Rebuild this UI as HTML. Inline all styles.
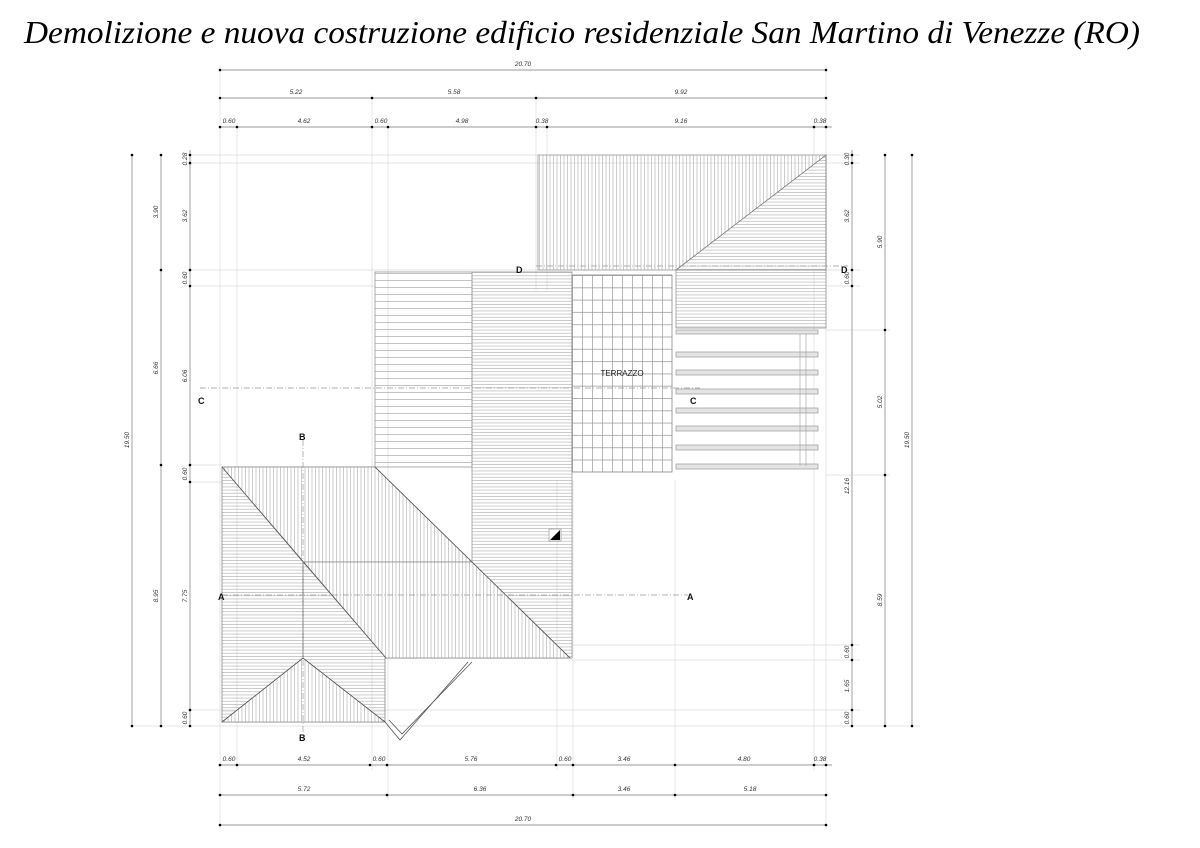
<!DOCTYPE html>
<html><head><meta charset="utf-8"><style>
html,body{margin:0;padding:0;background:#fff;width:1200px;height:848px;overflow:hidden}
svg{position:absolute;left:0;top:0}
.t{font-family:"Liberation Serif",serif;font-style:italic;font-size:32px;fill:#000}
.d{font-family:"Liberation Sans",sans-serif;font-style:italic;font-size:6.5px;fill:#333}
.l{font-family:"Liberation Sans",sans-serif;font-weight:bold;font-size:9px;fill:#111}
</style></head><body>
<svg width="1200" height="848" viewBox="0 0 1200 848" xmlns="http://www.w3.org/2000/svg">
<defs>
<pattern id="hz" width="6" height="3.2" patternUnits="userSpaceOnUse"><line x1="0" y1="0.5" x2="6" y2="0.5" stroke="#aaa" stroke-width="0.6"/></pattern>
<pattern id="hzs" width="6" height="7" patternUnits="userSpaceOnUse"><line x1="0" y1="0.5" x2="6" y2="0.5" stroke="#aaa" stroke-width="0.7"/></pattern>
<pattern id="vt" width="3.5" height="6" patternUnits="userSpaceOnUse"><line x1="0.5" y1="0" x2="0.5" y2="6" stroke="#aaa" stroke-width="0.6"/></pattern>
<pattern id="grid" x="572" y="275" width="10" height="12.3" patternUnits="userSpaceOnUse"><path d="M0.5 0V12.3M0 0.5H10" stroke="#999" stroke-width="0.7" fill="none"/></pattern>
</defs>
<text class="t" x="24" y="43" textLength="1116" lengthAdjust="spacingAndGlyphs">Demolizione e nuova costruzione edificio residenziale San Martino di Venezze (RO)</text>

<g stroke="#ddd" stroke-width="0.7">
<line x1="220" y1="65" x2="220" y2="830"/><line x1="237" y1="123" x2="237" y2="770"/>
<line x1="372" y1="95" x2="372" y2="770"/><line x1="388" y1="123" x2="388" y2="800"/>
<line x1="536" y1="95" x2="536" y2="290"/><line x1="547" y1="123" x2="547" y2="290"/>
<line x1="826" y1="65" x2="826" y2="830"/><line x1="814" y1="123" x2="814" y2="770"/>
<line x1="557" y1="480" x2="557" y2="770"/><line x1="573" y1="480" x2="573" y2="800"/>
<line x1="675" y1="480" x2="675" y2="800"/>
<line x1="190" y1="155" x2="860" y2="155"/><line x1="190" y1="163" x2="860" y2="163"/>
<line x1="190" y1="270" x2="860" y2="270"/><line x1="190" y1="286" x2="375" y2="286"/><line x1="826" y1="286" x2="860" y2="286"/>
<line x1="190" y1="465" x2="222" y2="465"/><line x1="190" y1="482" x2="222" y2="482"/>
<line x1="826" y1="330" x2="890" y2="330"/><line x1="826" y1="475" x2="890" y2="475"/>
<line x1="572" y1="645" x2="860" y2="645"/><line x1="572" y1="660" x2="860" y2="660"/>
<line x1="190" y1="710" x2="860" y2="710"/><line x1="130" y1="726" x2="920" y2="726"/>
</g>

<rect x="538" y="155" width="288" height="115" fill="url(#vt)" stroke="#999" stroke-width="0.8"/>
<polygon points="676,270 826,155 826,270" fill="#fff"/>
<polygon points="676,270 826,155 826,270" fill="url(#hz)" stroke="#777" stroke-width="0.8"/>
<rect x="676" y="270" width="150" height="58" fill="url(#hz)" stroke="#999" stroke-width="0.8"/>

<rect x="375" y="272" width="97" height="195" fill="url(#hzs)" stroke="#999" stroke-width="0.8"/>
<rect x="472" y="272" width="100" height="386" fill="url(#hz)" stroke="#999" stroke-width="0.8"/>
<rect x="572" y="275" width="100" height="197" fill="url(#grid)" stroke="#888" stroke-width="0.8"/>
<text x="622" y="376" text-anchor="middle" font-family="Liberation Sans,sans-serif" font-size="8" fill="#222">TERRAZZO</text>

<g fill="#e4e4e4" stroke="#999" stroke-width="0.7">
<rect x="676" y="330" width="142" height="4"/><rect x="676" y="352" width="142" height="5"/>
<rect x="676" y="370" width="142" height="5"/><rect x="676" y="389" width="142" height="5"/>
<rect x="676" y="408" width="142" height="5"/><rect x="676" y="426" width="142" height="5"/>
<rect x="676" y="445" width="142" height="5"/><rect x="676" y="464" width="142" height="5"/>
</g>
<g stroke="#aaa" stroke-width="0.7"><line x1="800" y1="334" x2="800" y2="466"/><line x1="806" y1="334" x2="806" y2="466"/></g>

<polygon points="222,467 375,467 570,658 385,658 385,722 222,722" fill="url(#hz)" stroke="#888" stroke-width="0.8"/>
<polygon points="222,467 375,467 472,562 303,562" fill="#fff"/>
<polygon points="222,467 375,467 472,562 303,562" fill="url(#vt)" stroke="#888" stroke-width="0.7"/>
<polygon points="303,562 472,562 570,658 386,658" fill="#fff"/>
<polygon points="303,562 472,562 570,658 386,658" fill="url(#vt)" stroke="#888" stroke-width="0.7"/>
<polygon points="303,658 222,722 385,722" fill="#fff"/>
<polygon points="303,658 222,722 385,722" fill="url(#vt)" stroke="#888" stroke-width="0.7"/>
<g stroke="#555" stroke-width="0.8" fill="none">
<line x1="222" y1="467" x2="386" y2="658"/><line x1="375" y1="467" x2="570" y2="658"/>
<line x1="303" y1="562" x2="303" y2="658"/>
<polyline points="222,722 303,658 385,722"/>
<polyline points="468,662 400,740 385,722"/><polyline points="472,662 402,734 389,720"/>
</g>
<rect x="549" y="529" width="12" height="12" fill="#fff" stroke="#888" stroke-width="0.6"/>
<polygon points="550,540 560,530 560,540" fill="#000"/>

<g stroke="#999" stroke-width="0.7" stroke-dasharray="6,2,1,2" fill="none">
<line x1="200" y1="388" x2="700" y2="388"/><line x1="222" y1="595" x2="688" y2="595"/>
<line x1="303" y1="440" x2="303" y2="740"/><line x1="536" y1="266" x2="848" y2="266"/>
</g>
<text class="l" x="198" y="404">C</text><text class="l" x="690" y="404">C</text>
<text class="l" x="218" y="600">A</text><text class="l" x="687" y="600">A</text>
<text class="l" x="299" y="440">B</text><text class="l" x="299" y="741">B</text>
<text class="l" x="516" y="273">D</text><text class="l" x="841" y="273">D</text>

<g stroke="#bbb" stroke-width="1.4">
<line x1="220" y1="70" x2="826" y2="70"/><line x1="220" y1="98" x2="826" y2="98"/><line x1="220" y1="127" x2="832" y2="127"/>
<line x1="220" y1="765" x2="832" y2="765"/><line x1="220" y1="795" x2="826" y2="795"/><line x1="220" y1="825" x2="826" y2="825"/>
<line x1="132" y1="155" x2="132" y2="726"/><line x1="161" y1="155" x2="161" y2="726"/><line x1="190" y1="150" x2="190" y2="726"/>
<line x1="852" y1="150" x2="852" y2="726"/><line x1="885" y1="155" x2="885" y2="726"/><line x1="912" y1="155" x2="912" y2="726"/>
</g>
<g fill="#000">
<circle cx="220" cy="70" r="1.3"/><circle cx="826" cy="70" r="1.3"/>
<circle cx="220" cy="98" r="1.3"/><circle cx="372" cy="98" r="1.3"/><circle cx="536" cy="98" r="1.3"/><circle cx="826" cy="98" r="1.3"/>
<circle cx="220" cy="127" r="1.3"/><circle cx="237" cy="127" r="1.3"/><circle cx="372" cy="127" r="1.3"/><circle cx="388" cy="127" r="1.3"/><circle cx="536" cy="127" r="1.3"/><circle cx="547" cy="127" r="1.3"/><circle cx="814" cy="127" r="1.3"/><circle cx="826" cy="127" r="1.3"/>
<circle cx="220" cy="765" r="1.3"/><circle cx="237" cy="765" r="1.3"/><circle cx="370" cy="765" r="1.3"/><circle cx="387" cy="765" r="1.3"/><circle cx="556" cy="765" r="1.3"/><circle cx="573" cy="765" r="1.3"/><circle cx="675" cy="765" r="1.3"/><circle cx="814" cy="765" r="1.3"/><circle cx="826" cy="765" r="1.3"/>
<circle cx="220" cy="795" r="1.3"/><circle cx="387" cy="795" r="1.3"/><circle cx="573" cy="795" r="1.3"/><circle cx="675" cy="795" r="1.3"/><circle cx="826" cy="795" r="1.3"/>
<circle cx="220" cy="825" r="1.3"/><circle cx="826" cy="825" r="1.3"/>
<circle cx="132" cy="155" r="1.3"/><circle cx="132" cy="726" r="1.3"/>
<circle cx="161" cy="155" r="1.3"/><circle cx="161" cy="270" r="1.3"/><circle cx="161" cy="465" r="1.3"/><circle cx="161" cy="726" r="1.3"/>
<circle cx="190" cy="155" r="1.3"/><circle cx="190" cy="163" r="1.3"/><circle cx="190" cy="270" r="1.3"/><circle cx="190" cy="286" r="1.3"/><circle cx="190" cy="465" r="1.3"/><circle cx="190" cy="482" r="1.3"/><circle cx="190" cy="710" r="1.3"/><circle cx="190" cy="726" r="1.3"/>
<circle cx="852" cy="155" r="1.3"/><circle cx="852" cy="163" r="1.3"/><circle cx="852" cy="270" r="1.3"/><circle cx="852" cy="286" r="1.3"/><circle cx="852" cy="645" r="1.3"/><circle cx="852" cy="660" r="1.3"/><circle cx="852" cy="710" r="1.3"/><circle cx="852" cy="726" r="1.3"/>
<circle cx="885" cy="155" r="1.3"/><circle cx="885" cy="330" r="1.3"/><circle cx="885" cy="475" r="1.3"/><circle cx="885" cy="726" r="1.3"/>
<circle cx="912" cy="155" r="1.3"/><circle cx="912" cy="726" r="1.3"/>
</g>
<g class="d" text-anchor="middle">
<text x="523" y="66" class="d">20.70</text>
<text x="296" y="94" class="d">5.22</text><text x="454" y="94" class="d">5.58</text><text x="681" y="94" class="d">9.92</text>
<text x="229" y="123" class="d">0.60</text><text x="304" y="123" class="d">4.62</text><text x="381" y="123" class="d">0.60</text><text x="462" y="123" class="d">4.98</text><text x="542" y="123" class="d">0.38</text><text x="681" y="123" class="d">9.16</text><text x="820" y="123" class="d">0.38</text>
<text x="229" y="761" class="d">0.60</text><text x="304" y="761" class="d">4.52</text><text x="379" y="761" class="d">0.60</text><text x="471" y="761" class="d">5.76</text><text x="565" y="761" class="d">0.60</text><text x="624" y="761" class="d">3.46</text><text x="744" y="761" class="d">4.80</text><text x="820" y="761" class="d">0.38</text>
<text x="304" y="791" class="d">5.72</text><text x="480" y="791" class="d">6.36</text><text x="624" y="791" class="d">3.46</text><text x="750" y="791" class="d">5.18</text>
<text x="523" y="821" class="d">20.70</text>
</g>
<g class="d" text-anchor="middle">
<text class="d" transform="translate(129,440) rotate(-90)">19.50</text>
<text class="d" transform="translate(158,212) rotate(-90)">3.90</text>
<text class="d" transform="translate(158,368) rotate(-90)">6.66</text>
<text class="d" transform="translate(158,596) rotate(-90)">8.95</text>
<text class="d" transform="translate(187,159) rotate(-90)">0.28</text>
<text class="d" transform="translate(187,216) rotate(-90)">3.62</text>
<text class="d" transform="translate(187,278) rotate(-90)">0.60</text>
<text class="d" transform="translate(187,376) rotate(-90)">6.06</text>
<text class="d" transform="translate(187,474) rotate(-90)">0.60</text>
<text class="d" transform="translate(187,596) rotate(-90)">7.75</text>
<text class="d" transform="translate(187,718) rotate(-90)">0.60</text>
<text class="d" transform="translate(849,159) rotate(-90)">0.30</text>
<text class="d" transform="translate(849,216) rotate(-90)">3.62</text>
<text class="d" transform="translate(849,278) rotate(-90)">0.60</text>
<text class="d" transform="translate(849,486) rotate(-90)">12.16</text>
<text class="d" transform="translate(849,652) rotate(-90)">0.60</text>
<text class="d" transform="translate(849,686) rotate(-90)">1.65</text>
<text class="d" transform="translate(849,718) rotate(-90)">0.60</text>
<text class="d" transform="translate(882,242) rotate(-90)">5.90</text>
<text class="d" transform="translate(882,402) rotate(-90)">5.02</text>
<text class="d" transform="translate(882,600) rotate(-90)">8.59</text>
<text class="d" transform="translate(909,440) rotate(-90)">19.50</text>
</g>
</svg>
</body></html>
